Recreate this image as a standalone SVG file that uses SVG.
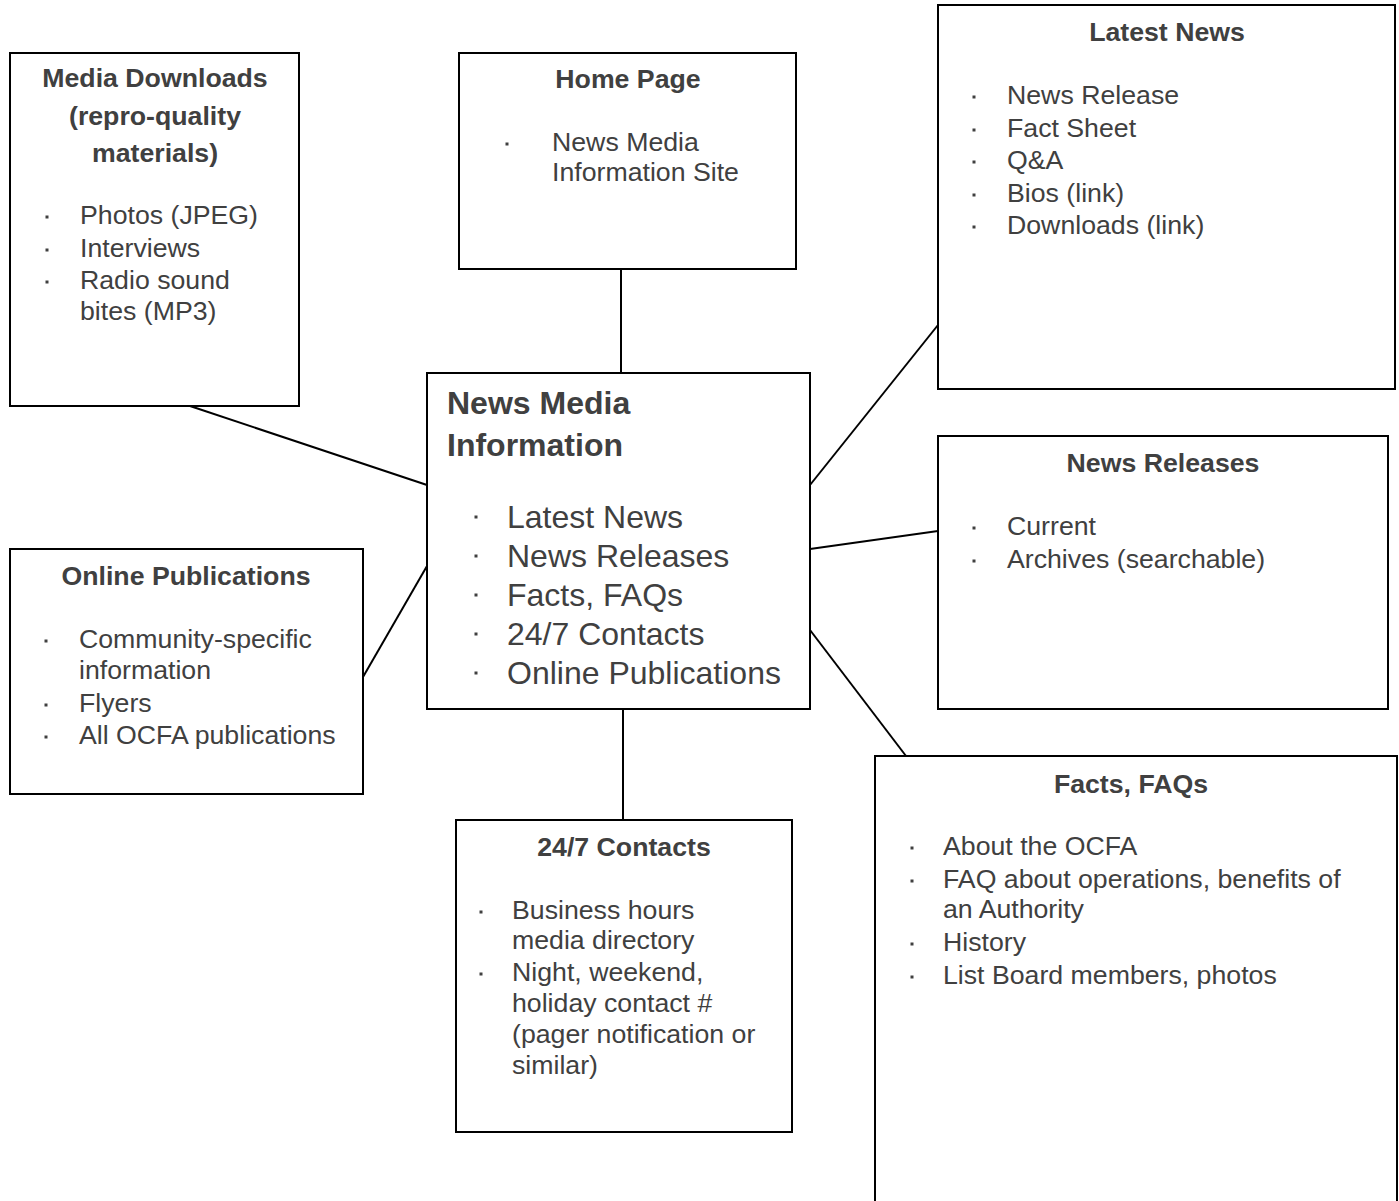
<svg xmlns="http://www.w3.org/2000/svg" width="1399" height="1201" viewBox="0 0 1399 1201">
<style>
.box{fill:#fff;stroke:#000;stroke-width:2}
.t{font-family:"Liberation Sans",Arial,sans-serif;font-size:26.7px;fill:#404040}
.b{font-weight:bold}
.c{text-anchor:middle}
.big{font-size:32px}
.ln{stroke:#000;stroke-width:2;fill:none}
.bl{fill:#404040}
</style>
<defs><rect id="bu" class="bl" x="-1.5" y="-1.5" width="3" height="3"/></defs>
<rect width="1399" height="1201" fill="#fff"/>
<g id="connectors">
<line class="ln" x1="621" y1="269" x2="621" y2="373"/>
<line class="ln" x1="190" y1="406" x2="427" y2="485"/>
<line class="ln" x1="363" y1="677" x2="427" y2="566"/>
<line class="ln" x1="623" y1="709" x2="623" y2="820"/>
<line class="ln" x1="810" y1="485" x2="938" y2="325"/>
<line class="ln" x1="810" y1="549" x2="938" y2="531"/>
<line class="ln" x1="810" y1="630" x2="906" y2="756"/>
</g>
<g id="media-downloads">
<rect class="box" x="10" y="53" width="289" height="353"/>
<text class="t b c" x="155" y="87">Media Downloads</text>
<text class="t b c" x="155" y="125">(repro-quality</text>
<text class="t b c" x="155" y="162">materials)</text>
<use href="#bu" x="47" y="217"/><text class="t" x="80" y="224">Photos (JPEG)</text>
<use href="#bu" x="47" y="250"/><text class="t" x="80" y="257">Interviews</text>
<use href="#bu" x="47" y="282"/><text class="t" x="80" y="289">Radio sound</text>
<text class="t" x="80" y="320">bites (MP3)</text>
</g>
<g id="home-page">
<rect class="box" x="459" y="53" width="337" height="216"/>
<text class="t b c" x="628" y="88">Home Page</text>
<use href="#bu" x="507" y="144"/><text class="t" x="552" y="151">News Media</text>
<text class="t" x="552" y="181">Information Site</text>
</g>
<g id="latest-news">
<rect class="box" x="938" y="5" width="457" height="384"/>
<text class="t b c" x="1167" y="41">Latest News</text>
<use href="#bu" x="974" y="97"/><text class="t" x="1007" y="104">News Release</text>
<use href="#bu" x="974" y="130"/><text class="t" x="1007" y="137">Fact Sheet</text>
<use href="#bu" x="974" y="162"/><text class="t" x="1007" y="169">Q&amp;A</text>
<use href="#bu" x="974" y="195"/><text class="t" x="1007" y="202">Bios (link)</text>
<use href="#bu" x="974" y="227"/><text class="t" x="1007" y="234">Downloads (link)</text>
</g>
<g id="news-media-information">
<rect class="box" x="427" y="373" width="383" height="336"/>
<text class="t b big" x="447" y="414">News Media</text>
<text class="t b big" x="447" y="456">Information</text>
<use href="#bu" x="476" y="517"/><text class="t big" x="507" y="528">Latest News</text>
<use href="#bu" x="476" y="556"/><text class="t big" x="507" y="567">News Releases</text>
<use href="#bu" x="476" y="595"/><text class="t big" x="507" y="606">Facts, FAQs</text>
<use href="#bu" x="476" y="634"/><text class="t big" x="507" y="645">24/7 Contacts</text>
<use href="#bu" x="476" y="673"/><text class="t big" x="507" y="684">Online Publications</text>
</g>
<g id="news-releases">
<rect class="box" x="938" y="436" width="450" height="273"/>
<text class="t b c" x="1163" y="472">News Releases</text>
<use href="#bu" x="974" y="528"/><text class="t" x="1007" y="535">Current</text>
<use href="#bu" x="974" y="561"/><text class="t" x="1007" y="568">Archives (searchable)</text>
</g>
<g id="online-publications">
<rect class="box" x="10" y="549" width="353" height="245"/>
<text class="t b c" x="186" y="585">Online Publications</text>
<use href="#bu" x="46" y="641"/><text class="t" x="79" y="648">Community-specific</text>
<text class="t" x="79" y="679">information</text>
<use href="#bu" x="46" y="705"/><text class="t" x="79" y="712">Flyers</text>
<use href="#bu" x="46" y="737"/><text class="t" x="79" y="744">All OCFA publications</text>
</g>
<g id="contacts">
<rect class="box" x="456" y="820" width="336" height="312"/>
<text class="t b c" x="624" y="856">24/7 Contacts</text>
<use href="#bu" x="481" y="912"/><text class="t" x="512" y="919">Business hours</text>
<text class="t" x="512" y="949">media directory</text>
<use href="#bu" x="481" y="974"/><text class="t" x="512" y="981">Night, weekend,</text>
<text class="t" x="512" y="1012">holiday contact #</text>
<text class="t" x="512" y="1043">(pager notification or</text>
<text class="t" x="512" y="1074">similar)</text>
</g>
<g id="facts-faqs">
<rect class="box" x="875" y="756" width="522" height="460"/>
<text class="t b c" x="1131" y="793">Facts, FAQs</text>
<use href="#bu" x="912" y="848"/><text class="t" x="943" y="855">About the OCFA</text>
<use href="#bu" x="912" y="881"/><text class="t" x="943" y="888">FAQ about operations, benefits of</text>
<text class="t" x="943" y="918">an Authority</text>
<use href="#bu" x="912" y="944"/><text class="t" x="943" y="951">History</text>
<use href="#bu" x="912" y="977"/><text class="t" x="943" y="984">List Board members, photos</text>
</g>
</svg>
